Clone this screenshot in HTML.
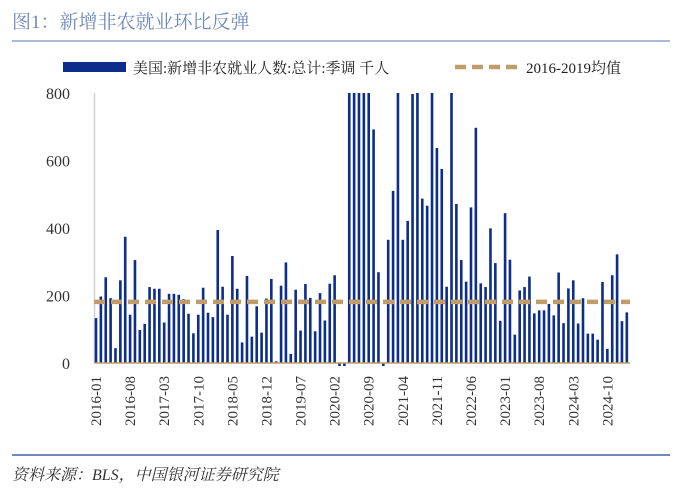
<!DOCTYPE html>
<html><head><meta charset="utf-8"><style>
body{margin:0;background:#fff;width:679px;height:493px;overflow:hidden;font-family:"Liberation Serif","Noto Serif CJK SC",serif}
</style></head><body>
<svg width="679" height="493" xmlns="http://www.w3.org/2000/svg">
<text x="12" y="28" font-size="19" fill="#6f88bf" font-family="Liberation Serif,Noto Serif CJK SC,serif">图1：新增非农就业环比反弹</text>
<line x1="12" y1="41" x2="670" y2="41" stroke="#7a90c4" stroke-width="1.2"/>
<g>
<rect x="63" y="62" width="63" height="10" fill="#0c2d8a"/>
<text x="133" y="73" font-size="15" fill="#222">美国:新增非农就业人数:总计:季调 千人</text>
<line x1="455" y1="67" x2="520" y2="67" stroke="#bf9c68" stroke-width="4.5" stroke-dasharray="11,6"/>
<text x="526" y="73" font-size="15" fill="#222">2016-2019均值</text>
</g>
<g id="yaxis"></g>
<g id="bars"></g>
<g id="xaxis"></g>
<line x1="12" y1="455" x2="670" y2="455" stroke="#6f88bf" stroke-width="2"/>
<text x="12" y="480" font-size="16" font-style="italic" fill="#333">资料来源：BLS，中国银河证券研究院</text>
</svg>
<script>
const values=[133,197,254,192,44,245,374,143,305,98,116,225,220,220,120,205,205,202,189,146,88,143,223,149,136,394,226,143,317,220,61,258,78,168,90,191,
249,5,229,298,27,217,96,234,193,94,207,126,235,260,-1300,-20500,2800,4600,1700,1500,1000,692,269,-300,
365,510,900,365,421,797,1000,487,466,900,637,575,226,900,471,305,241,461,697,236,225,399,296,125,444,306,84,215,225,256,147,156,156,175,141,268,118,221,245,117,192,87,87,69,240,42,260,322,124,150];
const avgValue=[181];
const tickLabels=["2016-01","2016-08","2017-03","2017-10","2018-05","2018-12","2019-07","2020-02","2020-09","2021-04","2021-11","2022-06","2023-01","2023-08","2024-03","2024-10"];
const yTicks=[0,200,400,600,800];
const NS="http://www.w3.org/2000/svg";
const x0=96,step=4.87,yBase=363,yTop=93,yMax=800;
const xs=i=>x0+step*i;
const ys=v=>yBase-(v/yMax)*(yBase-yTop);
function mk(t,a,p){const e=document.createElementNS(NS,t);for(const k in a)e.setAttribute(k,a[k]);p.appendChild(e);return e;}
const ya=document.getElementById('yaxis');
yTicks.forEach(v=>{const t=mk('text',{x:70,y:ys(v)+6,'font-size':16,'text-anchor':'end',fill:'#333'},ya);t.textContent=v;

});
const ax=mk('line',{x1:94.5,y1:yTop,x2:94.5,y2:yBase,stroke:'#d0d0d0','stroke-width':1.5},ya);


const bg=document.getElementById('bars');
values.forEach((v,i)=>{let top=ys(Math.min(v,yMax)),bot=yBase;if(v<0){top=yBase;bot=Math.min(ys(v),yBase+3);}
const r=mk('rect',{x:xs(i)-1.3,y:top,width:2.6,height:Math.max(bot-top,0),fill:'#0c2d8a'},bg);

});
const xa=document.getElementById('xaxis');
const bl=mk('line',{x1:94,y1:yBase,x2:630,y2:yBase,stroke:'#bf9c68','stroke-width':1.5},xa);


const av=mk('line',{x1:94,y1:ys(avgValue[0]),x2:630,y2:ys(avgValue[0]),stroke:'#bf9c68','stroke-width':4.5,'stroke-dasharray':'11,6'},xa);


tickLabels.forEach((l,k)=>{const x=xs(k*7);const t=mk('text',{x:0,y:0,'font-size':15,fill:'#333','text-anchor':'end',transform:`translate(${x+5},376) rotate(-90)`},xa);t.textContent=l;

});
</script>
</body></html>
